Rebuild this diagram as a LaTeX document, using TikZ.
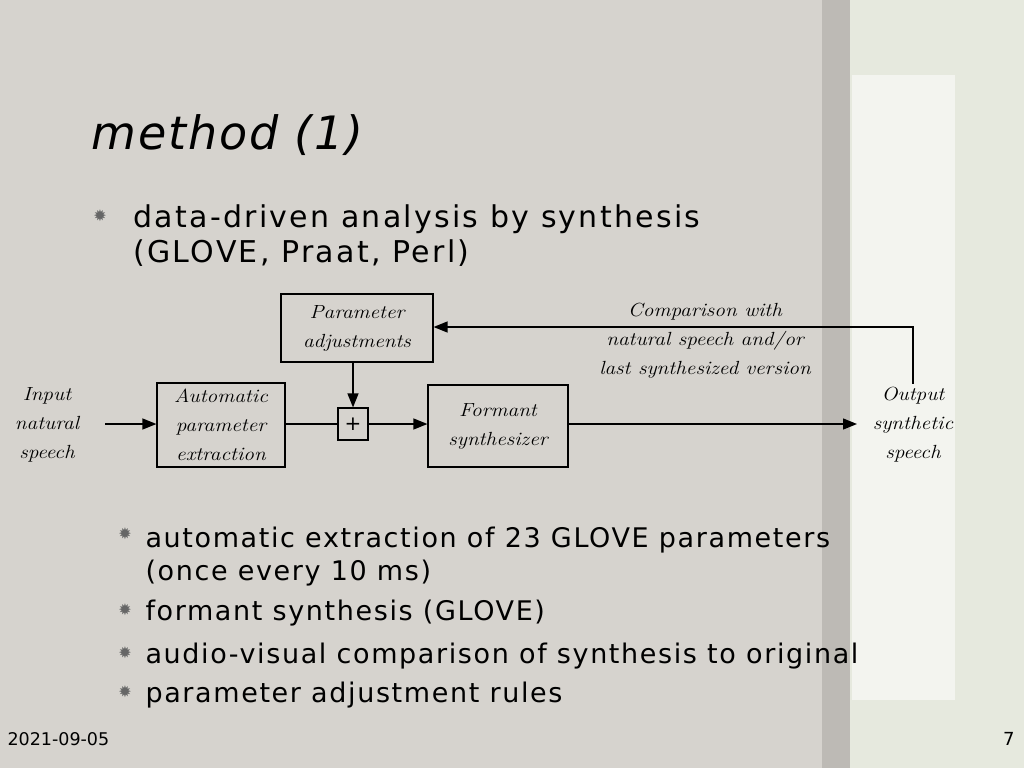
\documentclass[tikz,border=0pt]{standalone}
\usepackage{fontspec}
\setmainfont[LetterSpace=6]{DejaVu Sans}
\newfontfamily\bigf[LetterSpace=7.5]{DejaVu Sans}
\newfontfamily\titf[LetterSpace=4]{DejaVu Sans}
\newfontfamily\symf{DejaVu Sans}
\newfontfamily\lblf[FakeStretch=1.12]{Latin Modern Roman}
\usetikzlibrary{arrows.meta}
\definecolor{paper}{HTML}{D6D3CE}
\definecolor{strip}{HTML}{BDBAB5}
\definecolor{rside}{HTML}{E6E9DE}
\definecolor{panel}{HTML}{F3F4EF}
\tikzset{
  blk/.style={draw, line width=1.2pt, fill=paper, minimum width=#1, inner sep=0pt},
  lbl/.style={font=\lblf\itshape\fontsize{19}{29}\selectfont, align=center},
  con/.style={line width=1.3pt, -{Triangle[length=14pt,width=11pt]}},
  bul/.style={font=\symf\fontsize{16}{16}\selectfont, text=gray!80!black},
  big/.style={font=\bigf\fontsize{30}{33}\selectfont, anchor=base west},
  small/.style={font=\fontsize{27}{33}\selectfont, anchor=base west}
}
\begin{document}
\begin{tikzpicture}[x=1pt,y=-1pt]
\useasboundingbox (0,0) rectangle (1024,768);
\fill[rside] (0,0) rectangle (1024,768);
\fill[paper] (0,0) rectangle (838,768);
\fill[strip] (822,0) rectangle (850,768);
\fill[panel] (852,75) rectangle (955,700);
\node[anchor=base west, font=\titf\fontsize{46}{50}\selectfont\itshape] (title) at (88,149) {method (1)};
\node[bul] (b0) at (100,216) {✹};
\node[big] (t0a) at (130,227) {data-driven analysis by synthesis};
\node[big] (t0b) at (130,262) {(GLOVE, Praat, Perl)};
% diagram
\node[blk=152pt, minimum height=68pt] (pa) at (357,328) {};
\node[lbl] at (pa) {Parameter\\adjustments};
\node[blk=128pt, minimum height=84pt] (ape) at (221,425) {};
\node[lbl] at (ape) {Automatic\\parameter\\extraction};
\node[blk=30pt, minimum height=32pt] (plus) at (353,424) {\fontsize{20}{20}\selectfont +};
\node[blk=140pt, minimum height=82pt] (fs) at (498,426) {};
\node[lbl] at (fs) {Formant\\synthesizer};
\node[lbl] (in) at (47,425) {Input\\natural\\speech};
\node[lbl] (out) at (913,425) {Output\\synthetic\\speech};
\node[lbl] (cmp) at (705,341) {Comparison with\\natural speech and/or\\last synthesized version};
\coordinate (ine) at (105,424);
\coordinate (oute) at (857,424);
\coordinate (fb) at (913,327);
\draw[con] (ine) -- (ape.west|-ine);
\draw[line width=1.3pt] (ape.east|-plus) -- (plus.west);
\draw[con] (plus.east) -- (fs.west|-plus);
\draw[con] (fs.east|-plus) -- (oute);
\draw[con] (plus.north|-pa.south) -- (plus.north);
\draw[con] (out.north) -- (fb) -- (pa.east|-fb);
% bullets
\node[bul] (b1) at (125,534) {✹};
\node[small] (t1a) at (142,547) {automatic extraction of 23 GLOVE parameters};
\node[small] (t1b) at (142,580) {(once every 10 ms)};
\node[bul] (b2) at (125,610) {✹};
\node[small] (t2) at (142,620) {formant synthesis (GLOVE)};
\node[bul] (b3) at (125,653) {✹};
\node[small] (t3) at (142,663) {audio-visual comparison of synthesis to original};
\node[bul] (b4) at (125,692) {✹};
\node[small] (t4) at (142,702) {parameter adjustment rules};
\node[anchor=base west, font=\symf\fontsize{17.5}{20}\selectfont] (date) at (4,745) {2021-09-05};
\node[anchor=base east, font=\symf\fontsize{18}{20}\selectfont] (pg) at (1018,745) {7};
\end{tikzpicture}
\end{document}
